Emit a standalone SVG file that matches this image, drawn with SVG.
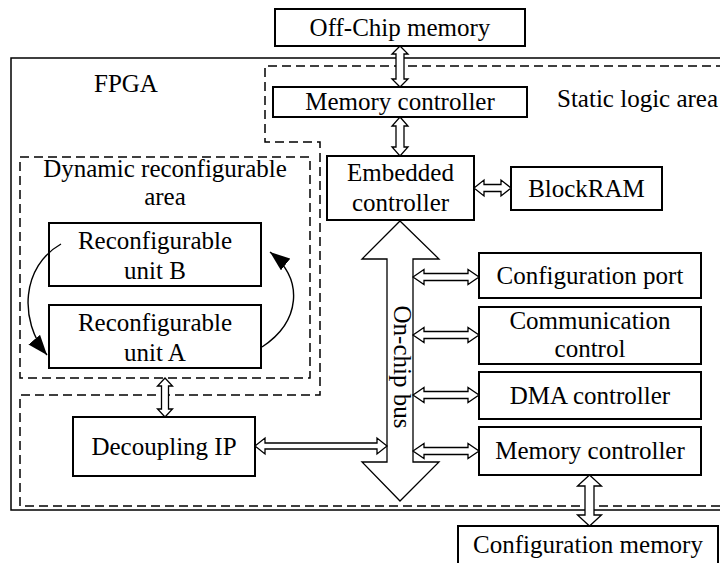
<svg xmlns="http://www.w3.org/2000/svg" width="720" height="563" viewBox="0 0 720 563">
  <defs>
    <style>
      text { font-family: "Liberation Serif", "Times New Roman", serif; font-size: 25px; fill: #000; }
      .mid { text-anchor: middle; }
      .box { fill: #fff; stroke: #000; stroke-width: 2; }
      .region { fill: none; stroke: #000; stroke-width: 1.5; stroke-dasharray: 9 5; }
      .chip { fill: none; stroke: #000; stroke-width: 1.5; }
      .dbl { fill: #fff; stroke: #000; stroke-width: 1.3; stroke-linejoin: miter; }
      .swap { fill: none; stroke: #000; stroke-width: 1.4; }
    </style>
    <marker id="head" markerUnits="userSpaceOnUse" markerWidth="22" markerHeight="16" refX="20" refY="7.5" orient="auto">
      <path d="M0,0 L20,7.5 L0,15 z" fill="#000"/>
    </marker>
  </defs>

  <!-- FPGA boundary and logic regions -->
  <g id="fpga">
    <rect class="chip" x="11" y="58" width="720" height="452"/>
    <text x="94" y="92">FPGA</text>
  </g>
  <g id="static-area">
    <path class="region" d="M725,66 H265 V142 H320 V395 H20 V506 H725"/>
    <text x="557" y="107">Static logic area</text>
  </g>
  <g id="dynamic-area">
    <rect class="region" x="20" y="157" width="290" height="221"/>
    <text class="mid" x="165" y="177">Dynamic reconfigurable</text>
    <text class="mid" x="165" y="205">area</text>
  </g>

  <!-- Blocks -->
  <g id="off-chip-memory">
    <rect class="box" x="275" y="9" width="250" height="37"/>
    <text class="mid" x="400" y="36">Off-Chip memory</text>
  </g>
  <g id="memory-controller-top">
    <rect class="box" x="273" y="87" width="254" height="30"/>
    <text class="mid" x="400" y="110">Memory controller</text>
  </g>
  <g id="embedded-controller">
    <rect class="box" x="327" y="156" width="147" height="64"/>
    <text class="mid" x="400.5" y="181">Embedded</text>
    <text class="mid" x="400.5" y="211">controller</text>
  </g>
  <g id="blockram">
    <rect class="box" x="511" y="167" width="151" height="43"/>
    <text class="mid" x="586.5" y="197">BlockRAM</text>
  </g>
  <g id="unit-b">
    <rect class="box" x="49" y="223" width="212" height="63"/>
    <text class="mid" x="155" y="249">Reconfigurable</text>
    <text class="mid" x="155" y="279">unit B</text>
  </g>
  <g id="unit-a">
    <rect class="box" x="49" y="305" width="212" height="63"/>
    <text class="mid" x="155" y="331">Reconfigurable</text>
    <text class="mid" x="155" y="361">unit A</text>
  </g>
  <g id="configuration-port">
    <rect class="box" x="479" y="253" width="222" height="45"/>
    <text class="mid" x="590" y="284">Configuration port</text>
  </g>
  <g id="communication-control">
    <rect class="box" x="479" y="307" width="222" height="57"/>
    <text class="mid" x="590" y="329">Communication</text>
    <text class="mid" x="590" y="357">control</text>
  </g>
  <g id="dma-controller">
    <rect class="box" x="479" y="372" width="222" height="47"/>
    <text class="mid" x="590" y="404">DMA controller</text>
  </g>
  <g id="memory-controller-bottom">
    <rect class="box" x="479" y="427" width="222" height="48"/>
    <text class="mid" x="590" y="459">Memory controller</text>
  </g>
  <g id="decoupling-ip">
    <rect class="box" x="73" y="417" width="182" height="59"/>
    <text class="mid" x="164" y="455">Decoupling IP</text>
  </g>
  <g id="configuration-memory">
    <rect class="box" x="458" y="526" width="260" height="40"/>
    <text class="mid" x="588" y="553">Configuration memory</text>
  </g>

  <!-- Connectors -->
  <g id="connectors">
    <!-- on-chip bus -->
    <polygon class="dbl" points="400,221 439,259 413,259 413,462 439,462 400,501 362,462 387,462 387,259 362,259"/>
    <text transform="translate(394,367) rotate(90)" class="mid">On-chip bus</text>

    <!-- off-chip memory <-> memory controller -->
    <polygon class="dbl" points="400,46 408,54 404,54 404,79 408,79 400,87 392,79 396,79 396,54 392,54"/>
    <!-- memory controller <-> embedded controller -->
    <polygon class="dbl" points="400,117 408,126 404,126 404,147 408,147 400,156 392,147 396,147 396,126 392,126"/>
    <!-- embedded controller <-> BlockRAM -->
    <polygon class="dbl" points="474,188 484,180 484,184.5 501,184.5 501,180 511,188 501,196 501,191.5 484,191.5 484,196"/>

    <!-- bus <-> peripherals -->
    <polygon class="dbl" points="413,277 424,269.5 424,273.5 468,273.5 468,269.5 479,277 468,284.5 468,280.5 424,280.5 424,284.5"/>
    <polygon class="dbl" points="413,335 424,327.5 424,331.5 468,331.5 468,327.5 479,335 468,342.5 468,338.5 424,338.5 424,342.5"/>
    <polygon class="dbl" points="413,395 424,387.5 424,391.5 468,391.5 468,387.5 479,395 468,402.5 468,398.5 424,398.5 424,402.5"/>
    <polygon class="dbl" points="413,451 424,443.5 424,447.5 468,447.5 468,443.5 479,451 468,458.5 468,454.5 424,454.5 424,458.5"/>

    <!-- decoupling IP <-> bus -->
    <polygon class="dbl" points="255,446 265,438 265,443 377,443 377,438 387,446 377,454 377,449 265,449 265,454"/>
    <!-- dynamic area <-> decoupling IP -->
    <polygon class="dbl" points="165,378 172.5,386 168.5,386 168.5,409 172.5,409 165,417 157.5,409 161.5,409 161.5,386 157.5,386"/>
    <!-- memory controller <-> configuration memory -->
    <polygon class="dbl" points="589.5,475 601.5,486 594,486 594,515 601.5,515 589.5,526 577.5,515 585,515 585,486 577.5,486"/>

    <!-- swapping between reconfigurable units -->
    <path class="swap" d="M61,244 C22,266 18,320 47,355" marker-end="url(#head)"/>
    <path class="swap" d="M262,347 C300,322 305,280 270,252" marker-end="url(#head)"/>
  </g>
</svg>
